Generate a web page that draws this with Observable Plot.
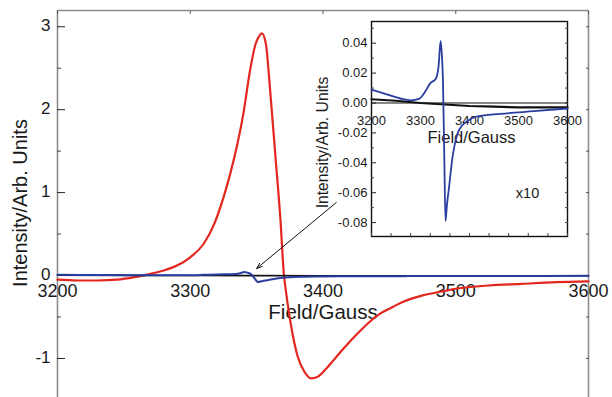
<!DOCTYPE html>
<html><head><meta charset="utf-8">
<script src="https://cdn.jsdelivr.net/npm/d3@7"></script>
<script src="https://cdn.jsdelivr.net/npm/@observablehq/plot@0.6"></script>
<style>
html,body{margin:0;padding:0;background:#fff;overflow:hidden}
#wrap{position:relative;width:612px;height:397px}
#main,#inset{position:absolute;top:0}
#main{left:0}
#inset{left:300px}
</style></head><body><div id="wrap"><div id="main"></div><div id="inset"></div></div>
<script>
// ---- data (Field in Gauss, intensity in arb. units) ----
const redField = [3200,3215,3230,3245,3258,3270,3280,3290,3300,3310,3318,3325,3330,3335,3340,3345,3349,3351,3354,3357,3360,3364,3368,3370.5,3372,3377,3381,3386,3391,3396,3402,3408,3415,3426,3435,3443,3450,3460,3475,3490,3500,3525,3550,3575,3600];
const redIntensity = [-0.05,-0.06,-0.06,-0.05,-0.02,0.02,0.06,0.12,0.22,0.38,0.62,0.94,1.22,1.55,1.95,2.47,2.78,2.86,2.92,2.79,2.27,1.47,0.66,0.02,-0.18,-0.70,-0.98,-1.16,-1.24,-1.22,-1.13,-1.02,-0.89,-0.70,-0.56,-0.46,-0.40,-0.32,-0.24,-0.19,-0.16,-0.12,-0.10,-0.08,-0.07];

const blueField = [3200,3233,3259,3280,3297,3310,3320,3331,3337,3341,3343,3346,3348.5,3351,3354,3358,3365,3375,3385,3396,3416,3463,3531,3600];
const blueIntensity = [0.009,0.0056,0.003,0.0018,0.0027,0.0078,0.0133,0.016,0.025,0.0416,0.035,0.0125,-0.035,-0.079,-0.068,-0.057,-0.037,-0.021,-0.015,-0.012,-0.009,-0.0073,-0.0055,-0.0037];

const blackField = [3200,3250,3300,3350,3400,3450,3500,3550,3600];
const blackIntensity = [0.0025,0.0015,0.0,-0.001,-0.002,-0.0025,-0.003,-0.003,-0.003];

// axes / ticks
const mainXDomain = [3200, 3600];
const mainYDomain = [-1.471, 3.196];
const mainXTicks = [3200, 3300, 3400, 3500, 3600];
const mainYTicks = [-1, 0, 1, 2, 3];
const mainYMinor = [-1.5, -0.5, 0.5, 1.5, 2.5];
const insetYDomain = [-0.0893, 0.0545];
const insetXTicks = [3200, 3300, 3400, 3500, 3600];
const insetXMinor = [3200,3240,3280,3320,3360,3400,3440,3480,3520,3560,3600];
const insetYTicks = [0.04, 0.02, 0.00, -0.02, -0.04, -0.06, -0.08];
const insetYMinor = [0.05, 0.03, 0.01, -0.01, -0.03, -0.05, -0.07];

// annotation arrow (from label area to the small blue signal)
const arrowFrom = {field: 3410, intensity: 0.88};
const arrowTo = {field: 3350, intensity: 0.085};

const xLabel = "Field/Gauss";
const yLabel = "Intensity/Arb. Units";
const insetNote = "x10";

const toRows = (f, v) => f.map((d, i) => ({field: d, intensity: v[i]}));
const red = toRows(redField, redIntensity);
const blue = toRows(blueField, blueIntensity);
const black = toRows(blackField, blackIntensity);

const FONT = "'Liberation Sans', Arial, Helvetica, sans-serif";
const RED = "#e3261e";
const BLUE = "#2a3ea0";
const FRAME = "#8c8c8c";
const blank = () => "";

// ---- main chart ----
const main = Plot.plot({
  width: 612, height: 397,
  marginLeft: 57, marginRight: 24, marginTop: 10, marginBottom: 0,
  style: {fontFamily: FONT, color: "#1a1a1a", background: "transparent", overflow: "visible"},
  x: {domain: mainXDomain, axis: null},
  y: {domain: mainYDomain, axis: null},
  marks: [
    Plot.ruleX([mainXDomain[0], mainXDomain[1]], {stroke: FRAME, strokeWidth: 1.6}),
    Plot.ruleY([mainYDomain[1]], {stroke: FRAME, strokeWidth: 1.6}),
    Plot.axisY(mainYTicks, {anchor: "left", label: null, tickSize: -8, tickFormat: blank, stroke: "#222"}),
    Plot.axisY(mainYMinor, {anchor: "left", label: null, tickSize: -4, tickFormat: blank, stroke: "#444"}),
    Plot.axisY(mainYTicks.concat(mainYMinor), {anchor: "right", label: null, tickSize: -3, tickFormat: blank, stroke: "#555"}),
    Plot.axisX(mainXTicks, {anchor: "top", label: null, tickSize: -3, tickFormat: blank, stroke: "#555"}),
    Plot.text(mainYTicks, {y: d => d, text: d => String(d), frameAnchor: "left", dx: -7, dy: -1, textAnchor: "end", fontSize: 17, fill: "#1a1a1a"}),
    Plot.text(mainXTicks, {x: d => d, y: () => 0, text: d => String(d), dy: 15.5, fontSize: 18, fill: "#1a1a1a"}),
    Plot.text([xLabel], {x: () => (mainXDomain[0] + mainXDomain[1]) / 2, y: () => 0, text: d => d, dy: 37, fontSize: 20.5, fill: "#1a1a1a"}),
    Plot.text([yLabel], {frameAnchor: "left", rotate: -90, dx: -37, dy: -1, textAnchor: "middle", lineAnchor: "middle", text: d => d, fontSize: 20, fill: "#1a1a1a"}),
    Plot.line(red, {x: "field", y: "intensity", stroke: RED, strokeWidth: 2.2, curve: "monotone-x"}),
    Plot.line(black, {x: "field", y: "intensity", stroke: "#111", strokeWidth: 1.6}),
    Plot.line(blue, {x: "field", y: "intensity", stroke: BLUE, strokeWidth: 2, curve: "monotone-x"}),
    Plot.arrow([{a: arrowFrom, b: arrowTo}], {x1: d => d.a.field, y1: d => d.a.intensity, x2: d => d.b.field, y2: d => d.b.intensity, stroke: "#111", strokeWidth: 1, headLength: 9, headAngle: 40})
  ]
});
document.getElementById("main").appendChild(main);

// ---- inset ----
const inset = Plot.plot({
  width: 312, height: 250,
  marginLeft: 71, marginRight: 45, marginTop: 21, marginBottom: 14,
  style: {fontFamily: FONT, color: "#1a1a1a", background: "transparent", overflow: "visible"},
  x: {domain: mainXDomain, axis: null},
  y: {domain: insetYDomain, axis: null},
  marks: [
    Plot.frame({fill: "white", stroke: "#111", strokeWidth: 1.4}),
    Plot.axisY(insetYTicks, {anchor: "left", label: null, tickSize: -5, tickFormat: blank, stroke: "#222"}),
    Plot.axisY(insetYMinor, {anchor: "left", label: null, tickSize: -3, tickFormat: blank, stroke: "#444"}),
    Plot.axisY(insetYTicks.concat(insetYMinor), {anchor: "right", label: null, tickSize: -3, tickFormat: blank, stroke: "#444"}),
    Plot.axisX(insetXMinor, {anchor: "bottom", label: null, tickSize: -3, tickFormat: blank, stroke: "#444"}),
    Plot.ruleY([0], {stroke: "#111", strokeWidth: 1}),
    Plot.text(insetYTicks, {y: d => d, text: d => d.toFixed(2), frameAnchor: "left", dx: -4, textAnchor: "end", fontSize: 13, fill: "#1a1a1a"}),
    Plot.text(insetXTicks, {x: d => d, y: () => 0, text: d => String(d), dy: 17.5, fontSize: 13, fill: "#1a1a1a"}),
    Plot.text([xLabel], {x: () => (mainXDomain[0] + mainXDomain[1]) / 2, y: () => 0, text: d => d, dx: 2, dy: 35, fontSize: 16.5, fill: "#1a1a1a"}),
    Plot.text([yLabel], {frameAnchor: "left", rotate: -90, dx: -49, dy: 13.5, textAnchor: "middle", lineAnchor: "middle", text: d => d, fontSize: 15.7, fill: "#1a1a1a"}),
    Plot.text([insetNote], {frameAnchor: "bottom-right", dx: -40, dy: -43, textAnchor: "middle", lineAnchor: "middle", text: d => d, fontSize: 14.5, fill: "#1a1a1a"}),
    Plot.line(black, {x: "field", y: "intensity", stroke: "#111", strokeWidth: 2.2}),
    Plot.line(blue, {x: "field", y: "intensity", stroke: BLUE, strokeWidth: 1.8, curve: "monotone-x"})
  ]
});
document.getElementById("inset").appendChild(inset);
</script>
</body></html>
